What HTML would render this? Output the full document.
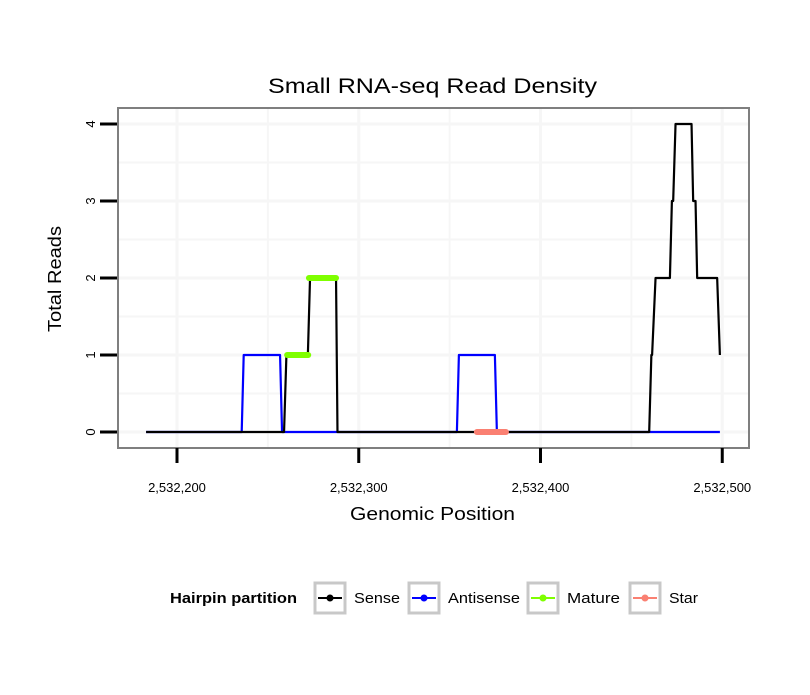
<!DOCTYPE html>
<html><head><meta charset="utf-8"><style>
body{margin:0;background:#fff;font-family:"Liberation Sans",sans-serif;}
</style></head><body>
<svg width="810" height="690" xmlns="http://www.w3.org/2000/svg" font-family="Liberation Sans, sans-serif">
<rect width="810" height="690" fill="#fff"/>
<text x="268" y="93" font-size="21" textLength="329" lengthAdjust="spacingAndGlyphs">Small RNA-seq Read Density</text>
<g id="grid"></g>
<g id="marks"></g>
<rect x="118" y="108" width="631" height="340" fill="none" stroke="#7f7f7f" stroke-width="2"/>
<g id="axes"></g>
<text x="350" y="520" font-size="18" textLength="165" lengthAdjust="spacingAndGlyphs">Genomic Position</text>
<text transform="translate(61,332) rotate(-90)" font-size="18" textLength="106" lengthAdjust="spacingAndGlyphs">Total Reads</text>
<g>
<text x="170" y="603" font-size="15" font-weight="bold" textLength="127" lengthAdjust="spacingAndGlyphs">Hairpin partition</text>
<g><rect x="315" y="583" width="30" height="30" fill="#fff" stroke="#c8c8c8" stroke-width="3"/><line x1="318" y1="598" x2="342" y2="598" stroke="#000" stroke-width="2"/><circle cx="330" cy="598" r="3.5" fill="#000"/><text x="354" y="603" font-size="15" textLength="46" lengthAdjust="spacingAndGlyphs">Sense</text></g>
<g><rect x="409" y="583" width="30" height="30" fill="#fff" stroke="#c8c8c8" stroke-width="3"/><line x1="412" y1="598" x2="436" y2="598" stroke="#0000ff" stroke-width="2"/><circle cx="424" cy="598" r="3.5" fill="#0000ff"/><text x="448" y="603" font-size="15" textLength="72" lengthAdjust="spacingAndGlyphs">Antisense</text></g>
<g><rect x="528" y="583" width="30" height="30" fill="#fff" stroke="#c8c8c8" stroke-width="3"/><line x1="531" y1="598" x2="555" y2="598" stroke="#7fff00" stroke-width="2"/><circle cx="543" cy="598" r="3.5" fill="#7fff00"/><text x="567" y="603" font-size="15" textLength="53" lengthAdjust="spacingAndGlyphs">Mature</text></g>
<g><rect x="630" y="583" width="30" height="30" fill="#fff" stroke="#c8c8c8" stroke-width="3"/><line x1="633" y1="598" x2="657" y2="598" stroke="#fa8072" stroke-width="2"/><circle cx="645" cy="598" r="3.5" fill="#fa8072"/><text x="669" y="603" font-size="15" textLength="29" lengthAdjust="spacingAndGlyphs">Star</text></g>
</g>
</svg>
<script>
const xTicks=[2532200,2532300,2532400,2532500];
const xTickLabels=["2,532,200","2,532,300","2,532,400","2,532,500"];
const yTicks=[0,1,2,3,4];
const senseX=[2532183,2532258.9,2532260.2,2532272,2532273.2,2532287.5,2532288.3,2532459.8,2532461,2532461.4,2532463.3,2532471.2,2532472.3,2532473,2532474.3,2532483.1,2532484,2532485.3,2532486.2,2532497.2,2532498.7];
const senseY=[0,0,1,1,2,2,0,0,1,1,2,2,3,3,4,4,3,3,2,2,1];
const antiX=[2532183,2532235.6,2532236.7,2532256.7,2532257.8,2532354,2532355.1,2532374.9,2532376,2532498.7];
const antiY=[0,0,1,1,0,0,1,1,0,0];
const matureStart=[2532260.6,2532272.6];
const matureEnd=[2532272.2,2532287.5];
const matureY=[1,2];
const starStart=[2532365];
const starEnd=[2532381];
const starY=[0];
const NS="http://www.w3.org/2000/svg";
const sx=v=>177+(v-2532200)*1.8175;
const sy=v=>432-v*77;
function mk(tag,attrs,parent){const e=document.createElementNS(NS,tag);for(const k in attrs)e.setAttribute(k,attrs[k]);parent.appendChild(e);return e;}
const grid=document.getElementById('grid'),marks=document.getElementById('marks'),axes=document.getElementById('axes');
for(let i=0;i<xTicks.length;i++){
  for(const v of [xTicks[i],xTicks[i]-50]){const x=sx(v);if(x<118||x>749)continue;
    const g=mk('line',{x1:x,x2:x,y1:109,y2:447,stroke:'#f6f6f6','stroke-width':v===xTicks[i]?3:2},grid);
    
    }
  const x=sx(xTicks[i]);
  const t=mk('line',{x1:x,x2:x,y1:448,y2:463,stroke:'#000','stroke-width':3},axes);
  
  
  const l=mk('text',{x:x,y:492,'font-size':13,'text-anchor':'middle'},axes);
  l.textContent=xTickLabels[i];
  
  
}
for(const v of yTicks){
  for(const w of [v,v+0.5]){const y=sy(w);if(y<108)continue;
    const g=mk('line',{x1:119,x2:748,y1:y,y2:y,stroke:'#f6f6f6','stroke-width':w===v?3:2},grid);
    
    }
  const y=sy(v);
  const t=mk('line',{x1:100,x2:117,y1:y,y2:y,stroke:'#000','stroke-width':3},axes);
  
  
  const l=mk('text',{transform:`translate(95,${y}) rotate(-90)`,'font-size':13,'text-anchor':'middle'},axes);
  l.textContent=String(v);
  
  
}
function path(xs,ys,color,name){
  const p=mk('polyline',{points:xs.map((x,i)=>sx(x)+','+sy(ys[i])).join(' '),fill:'none',stroke:color,'stroke-width':2.2,'stroke-linejoin':'round'},marks);
  
  
}
path(antiX,antiY,'#0000ff','antisense-line');
path(senseX,senseY,'#000','sense-line');
function segs(a,b,ys,color,name){
  for(let i=0;i<a.length;i++){
    const s=mk('line',{x1:sx(a[i]),x2:sx(b[i]),y1:sy(ys[i]),y2:sy(ys[i]),stroke:color,'stroke-width':6,'stroke-linecap':'round'},marks);
    
    
  }
}
segs(matureStart,matureEnd,matureY,'#7fff00','mature-segment');
segs(starStart,starEnd,starY,'#fa8072','star-segment');
</script>
</body></html>
